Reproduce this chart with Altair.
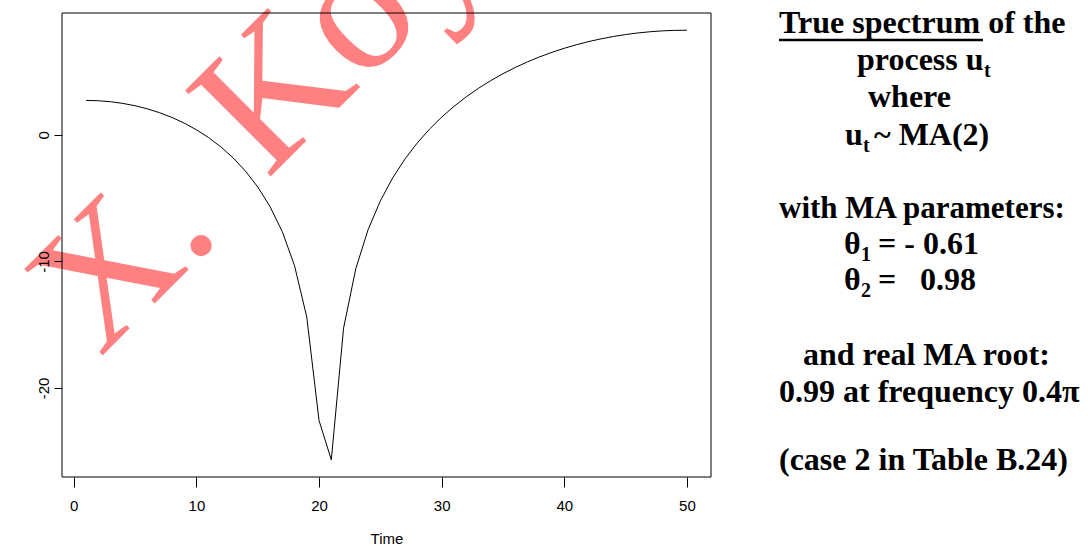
import altair as alt
import pandas as pd

# ---- data ----
time = list(range(1, 51))
spectrum = [2.723, 2.697, 2.619, 2.488, 2.302, 2.058, 1.752, 1.380, 0.934, 0.405,
            -0.219, -0.954, -1.823, -2.859, -4.112, -5.659, -7.640, -10.33, -14.40, -22.57,
            -25.67, -15.27, -10.56, -7.490, -5.212, -3.406, -1.914, -0.648, 0.446, 1.404,
            2.251, 3.006, 3.682, 4.288, 4.835, 5.327, 5.770, 6.168, 6.525, 6.844,
            7.126, 7.374, 7.589, 7.774, 7.928, 8.053, 8.149, 8.218, 8.259, 8.272]
x_ticks = [0, 10, 20, 30, 40, 50]
y_ticks = [-20, -10, 0]
x_title = "Time"
watermark = ["X.", "Koy"]

note_lines = ["True spectrum of the", "process u", "t", "where", "u", "t", "~ MA(2)",
              "with MA parameters:", "θ", "1", "= - 0.61", "θ", "2", "=", "0.98",
              "and real MA root:", "0.99 at frequency 0.4π", "(case 2 in Table B.24)"]

df = pd.DataFrame({"t": time, "s": spectrum})

W, H = 649, 464
L, T = 62, 13

xs = alt.Scale(domain=[-0.96, 51.96], nice=False, zero=False)
ys = alt.Scale(domain=[-27.03, 9.63], nice=False, zero=False)

one = pd.DataFrame({"a": [0]})

layers = []

# watermark (under everything)
wm_pos = [(100, 358, 178), (267, 180, 185)]
for s, (px, py, fs) in zip(watermark, wm_pos):
    layers.append(
        alt.Chart(one).mark_text(font="Liberation Serif", fontSize=fs, color="#FF8080",
                                 align="left", baseline="alphabetic", angle=315)
        .encode(x=alt.value(px - L), y=alt.value(py - T), text=alt.value(s))
    )

line = alt.Chart(df).mark_line(color="black", strokeWidth=1).encode(
    x=alt.X("t:Q", scale=xs,
            axis=alt.Axis(values=x_ticks, title=x_title, tickSize=10, labelPadding=11,
                          titlePadding=18)),
    y=alt.Y("s:Q", scale=ys,
            axis=alt.Axis(values=y_ticks, title=None, tickSize=8, labelAngle=270,
                          labelAlign="center", labelBaseline="bottom", labelPadding=3,
                          labelExpr="datum.value < 0 ? '-' + abs(datum.value) : '' + datum.value",
                          zindex=1)),
)
layers.append(line)

frame = alt.Chart(one).mark_rect(filled=False, stroke="black", strokeWidth=1).encode(
    x=alt.value(0), x2=alt.value(W), y=alt.value(0), y2=alt.value(H))
layers.append(frame)

# annotation text pieces: (index into note_lines, x, y, size)
pos = [
    (0, 779, 33, 32), (1, 857, 70, 32), (2, 984, 77, 20), (3, 868, 107, 32),
    (4, 845, 145, 32), (5, 863, 152, 20), (6, 874, 145, 32),
    (7, 779, 218, 31), (8, 844, 254, 32), (9, 861, 261, 20), (10, 878, 254, 32),
    (11, 844, 290, 32), (12, 861, 297, 20), (13, 878, 290, 32), (14, 920, 290, 32),
    (15, 803, 365, 32), (16, 779, 402, 32), (17, 779, 470, 32),
]
for i, px, py, size in pos:
    layers.append(
        alt.Chart(one).mark_text(font="Liberation Serif", fontWeight="bold", fontSize=size,
                                 color="black", align="left", baseline="alphabetic")
        .encode(x=alt.value(px - L), y=alt.value(py - T), text=alt.value(note_lines[i]))
    )

underline = alt.Chart(one).mark_rule(color="black", strokeWidth=2.5).encode(
    x=alt.value(779 - L), x2=alt.value(983 - L), y=alt.value(40 - T))
layers.append(underline)

chart = alt.layer(*layers).properties(
    width=W, height=H,
    autosize=alt.AutoSizeParams(type="none"),
    padding={"left": L, "top": T, "right": 1088 - L - W, "bottom": 549 - T - H},
    background="white",
).configure_view(stroke=None).configure_axis(
    labelFont="Liberation Sans", labelFontSize=15, labelColor="black",
    titleFont="Liberation Sans", titleFontSize=15, titleFontWeight="normal", titleColor="black",
    tickColor="black", domain=False, grid=False,
)

chart.save("out.html", embed_options={"renderer": "svg", "actions": False})
